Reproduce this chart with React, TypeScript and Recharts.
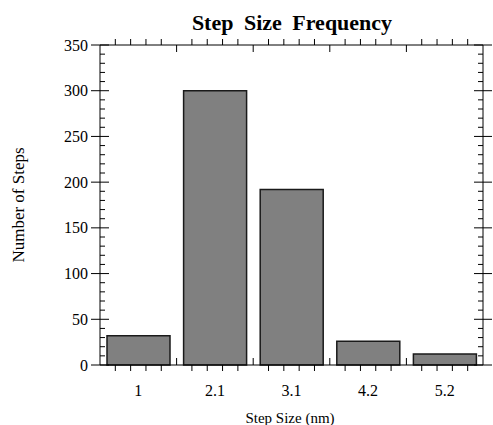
import { BarChart, Bar, Line, XAxis, YAxis } from "recharts";

const sizes = ["1", "2.1", "3.1", "4.2", "5.2"];
const counts = [32, 300, 192, 26, 12];
const yTicks = Array.from({ length: 36 }, (_, i) => i * 10);

const data = sizes.map((s, i) => ({ size: s, count: counts[i] }));

const FONT = "'Liberation Serif', 'Times New Roman', serif";
const txt = { fontFamily: FONT, fill: "#000" };

const LeftTick = ({ x, y, payload }: any) => {
  const major = payload.value % 50 === 0;
  return (
    <g>
      {major ? (
        <line x1={x - 9} x2={x + 9} y1={y} y2={y} stroke="#000" strokeWidth={1} />
      ) : (
        <line x1={x} x2={x + 5} y1={y} y2={y} stroke="#000" strokeWidth={1} />
      )}
      {major && (
        <text x={x - 12} y={y} dy={5.5} textAnchor="end" style={{ ...txt, fontSize: 16 }}>
          {payload.value}
        </text>
      )}
    </g>
  );
};

const RightTick = ({ x, y, payload }: any) => {
  const major = payload.value % 50 === 0;
  return major ? (
    <line x1={x - 9} x2={x + 9} y1={y} y2={y} stroke="#000" strokeWidth={1} />
  ) : (
    <line x1={x - 5} x2={x} y1={y} y2={y} stroke="#000" strokeWidth={1} />
  );
};

function minorXs(x: number, off: number) {
  return [1, 2, 3, 4].map((k) => x - off + (k * 2 * off) / 5);
}

const BottomTick = ({ x, y, payload, index, visibleTicksCount }: any) => {
  const off = payload.offset || 38.25;
  const last = index === visibleTicksCount - 1;
  return (
    <g>
      {minorXs(x, off).map((mx) => (
        <line key={mx} x1={mx} x2={mx} y1={y} y2={y + 6} stroke="#000" strokeWidth={1} />
      ))}
      {!last && <line x1={x + off} x2={x + off} y1={y} y2={y - 7} stroke="#000" strokeWidth={1} />}
      <text x={x} y={y + 31} textAnchor="middle" style={{ ...txt, fontSize: 16 }}>
        {payload.value}
      </text>
    </g>
  );
};

const TopTick = ({ x, y, payload, index, visibleTicksCount }: any) => {
  const off = payload.offset || 38.25;
  const last = index === visibleTicksCount - 1;
  return (
    <g>
      {minorXs(x, off).map((mx) => (
        <line key={mx} x1={mx} x2={mx} y1={y} y2={y - 6} stroke="#000" strokeWidth={1} />
      ))}
      {!last && <line x1={x + off} x2={x + off} y1={y} y2={y + 7} stroke="#000" strokeWidth={1} />}
    </g>
  );
};

export default function App() {
  return (
    <div style={{ position: "absolute", left: 0, top: 0, width: 493, height: 425, background: "#fff" }}>
      <BarChart
        width={493}
        height={425}
        data={data}
        margin={{ top: 44, right: 9, bottom: 0, left: 0 }}
        barCategoryGap={7}
      >
        <XAxis
          xAxisId="bottom"
          dataKey="size"
          height={60}
          tickSize={0}
          tickMargin={0}
          tick={<BottomTick />}
          axisLine={{ stroke: "#000", strokeWidth: 1 }}
          tickLine={false}
          interval={0}
        />
        <XAxis
          xAxisId="top"
          dataKey="size"
          orientation="top"
          height={1}
          tickSize={0}
          tickMargin={0}
          tick={<TopTick />}
          axisLine={{ stroke: "#000", strokeWidth: 1 }}
          tickLine={false}
          interval={0}
        />
        <YAxis
          yAxisId="left"
          width={100}
          domain={[0, 350]}
          ticks={yTicks}
          interval={0}
          tickSize={0}
          tickMargin={0}
          tick={<LeftTick />}
          axisLine={{ stroke: "#000", strokeWidth: 1 }}
          tickLine={false}
        />
        <YAxis
          yAxisId="right"
          orientation="right"
          width={1}
          domain={[0, 350]}
          ticks={yTicks}
          interval={0}
          tickSize={0}
          tickMargin={0}
          tick={<RightTick />}
          axisLine={{ stroke: "#000", strokeWidth: 1 }}
          tickLine={false}
        />
        <Bar
          xAxisId="bottom"
          yAxisId="left"
          dataKey="count"
          fill="#808080"
          stroke="#1a1a1a"
          strokeWidth={1.5}
          isAnimationActive={false}
        />
        {/* invisible series so the top/right frame axes get a domain */}
        <Line
          xAxisId="top"
          yAxisId="right"
          dataKey="count"
          stroke="none"
          dot={false}
          activeDot={false}
          isAnimationActive={false}
        />
      </BarChart>
      <svg width={493} height={425} style={{ position: "absolute", left: 0, top: 0, pointerEvents: "none" }}>
        <text x={292} y={30} textAnchor="middle" style={{ ...txt, fontSize: 22, fontWeight: "bold", wordSpacing: 5 }}>
          Step Size Frequency
        </text>
        <text x={290} y={423} textAnchor="middle" style={{ ...txt, fontSize: 15 }}>
          Step Size (nm)
        </text>
        <text
          x={24}
          y={205}
          textAnchor="middle"
          transform="rotate(-90 24 205)"
          style={{ ...txt, fontSize: 17 }}
        >
          Number of Steps
        </text>
      </svg>
    </div>
  );
}
